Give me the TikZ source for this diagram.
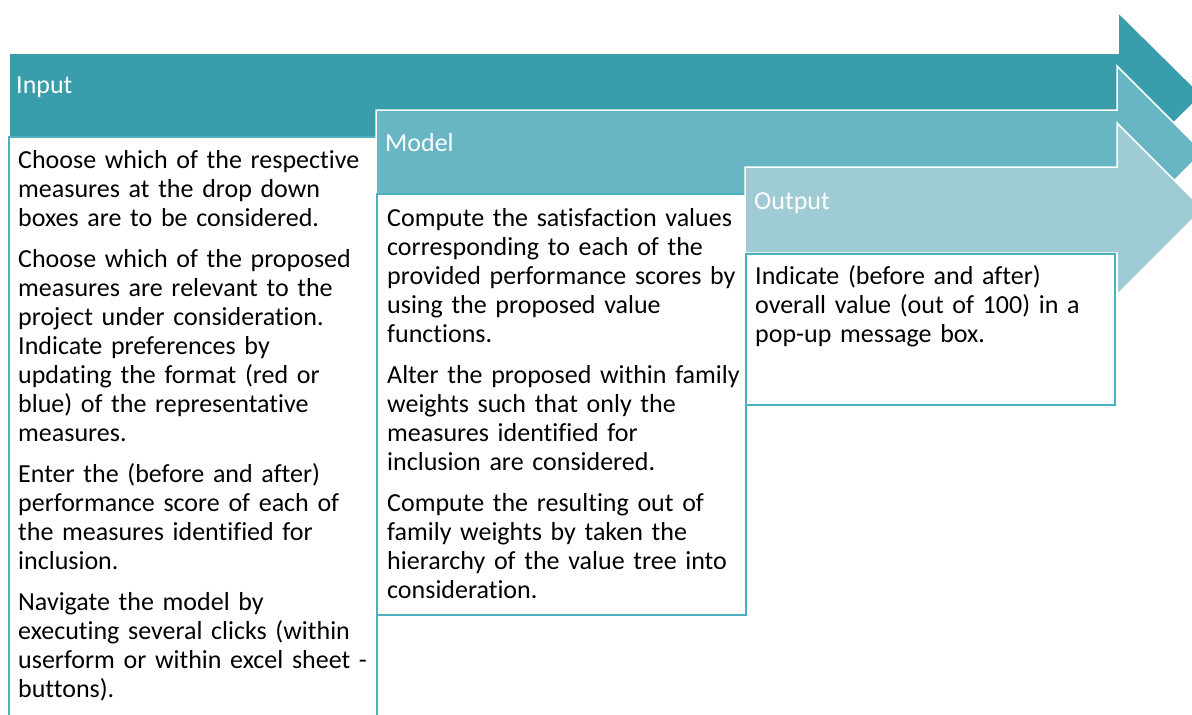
\documentclass[tikz,border=0pt]{standalone}
\usepackage{fontspec}
\setmainfont{Carlito}[Ligatures=NoCommon]
\definecolor{inband}{RGB}{58,157,172}
\definecolor{modband}{RGB}{104,182,196}
\definecolor{outband}{RGB}{159,204,212}
\definecolor{frame}{RGB}{75,176,192}
\begin{document}
\begin{tikzpicture}[x=1pt,y=-1pt,
  band/.style={draw=white,line width=1.5pt,line join=miter},
  card/.style={draw=frame,fill=white,line width=2.2pt},
  head/.style={anchor=base west,inner sep=0pt,text=white,font=\fontsize{26}{29}\selectfont},
  body/.style={anchor=base west,inner sep=0pt,text width=400pt,align=left,font=\fontsize{26}{29}\selectfont}]
\useasboundingbox (0,0) rectangle (1192,715);
\clip (0,0) rectangle (1192,715);
\fill[white] (0,0) rectangle (1192,715);
% Input stage
\draw[band,fill=inband] (9,53) -- (1118,53) -- (1118,12) -- (1202,95) -- (1118,178) -- (1118,137) -- (9,137) -- cycle;
\draw[card] (9,137) rectangle (377,740);
% Model stage
\draw[band,fill=modband] (376,110) -- (1117,110) -- (1117,66) -- (1203,152) -- (1117,238) -- (1117,194) -- (376,194) -- cycle;
\draw[card] (377,194) rectangle (746,615);
% Output stage
\draw[band,fill=outband] (745,167) -- (1117,167) -- (1117,123) -- (1203,209) -- (1117,295) -- (1117,253) -- (745,253) -- cycle;
\draw[card] (746,254) rectangle (1115,405);
% Stage titles
\node[head] (tin) at (16,93) {Input};
\node[head] (tmod) at (385,151) {Model};
\node[head] (tout) at (754,209) {Output};
% Stage descriptions
\node[body] (din) at (18,168) {Choose which of the respective\\
measures at the drop down\\
boxes are to be considered.\\[12pt]
Choose which of the proposed\\
measures are relevant to the\\
project under consideration.\\
Indicate preferences by\\
updating the format (red or\\
blue) of the representative\\
measures.\\[12pt]
Enter the (before and after)\\
performance score of each of\\
the measures identified for\\
inclusion.\\[12pt]
Navigate the model by\\
executing several clicks (within\\
userform or within excel sheet -\\
buttons).};
\node[body] (dmod) at (387,226) {Compute the satisfaction values\\
corresponding to each of the\\
provided performance scores by\\
using the proposed value\\
functions.\\[12pt]
Alter the proposed within family\\
weights such that only the\\
measures identified for\\
inclusion are considered.\\[12pt]
Compute the resulting out of\\
family weights by taken the\\
hierarchy of the value tree into\\
consideration.};
\node[body] (dout) at (755,284) {Indicate (before and after)\\
overall value (out of 100) in a\\
pop-up message box.};
\end{tikzpicture}
\end{document}
